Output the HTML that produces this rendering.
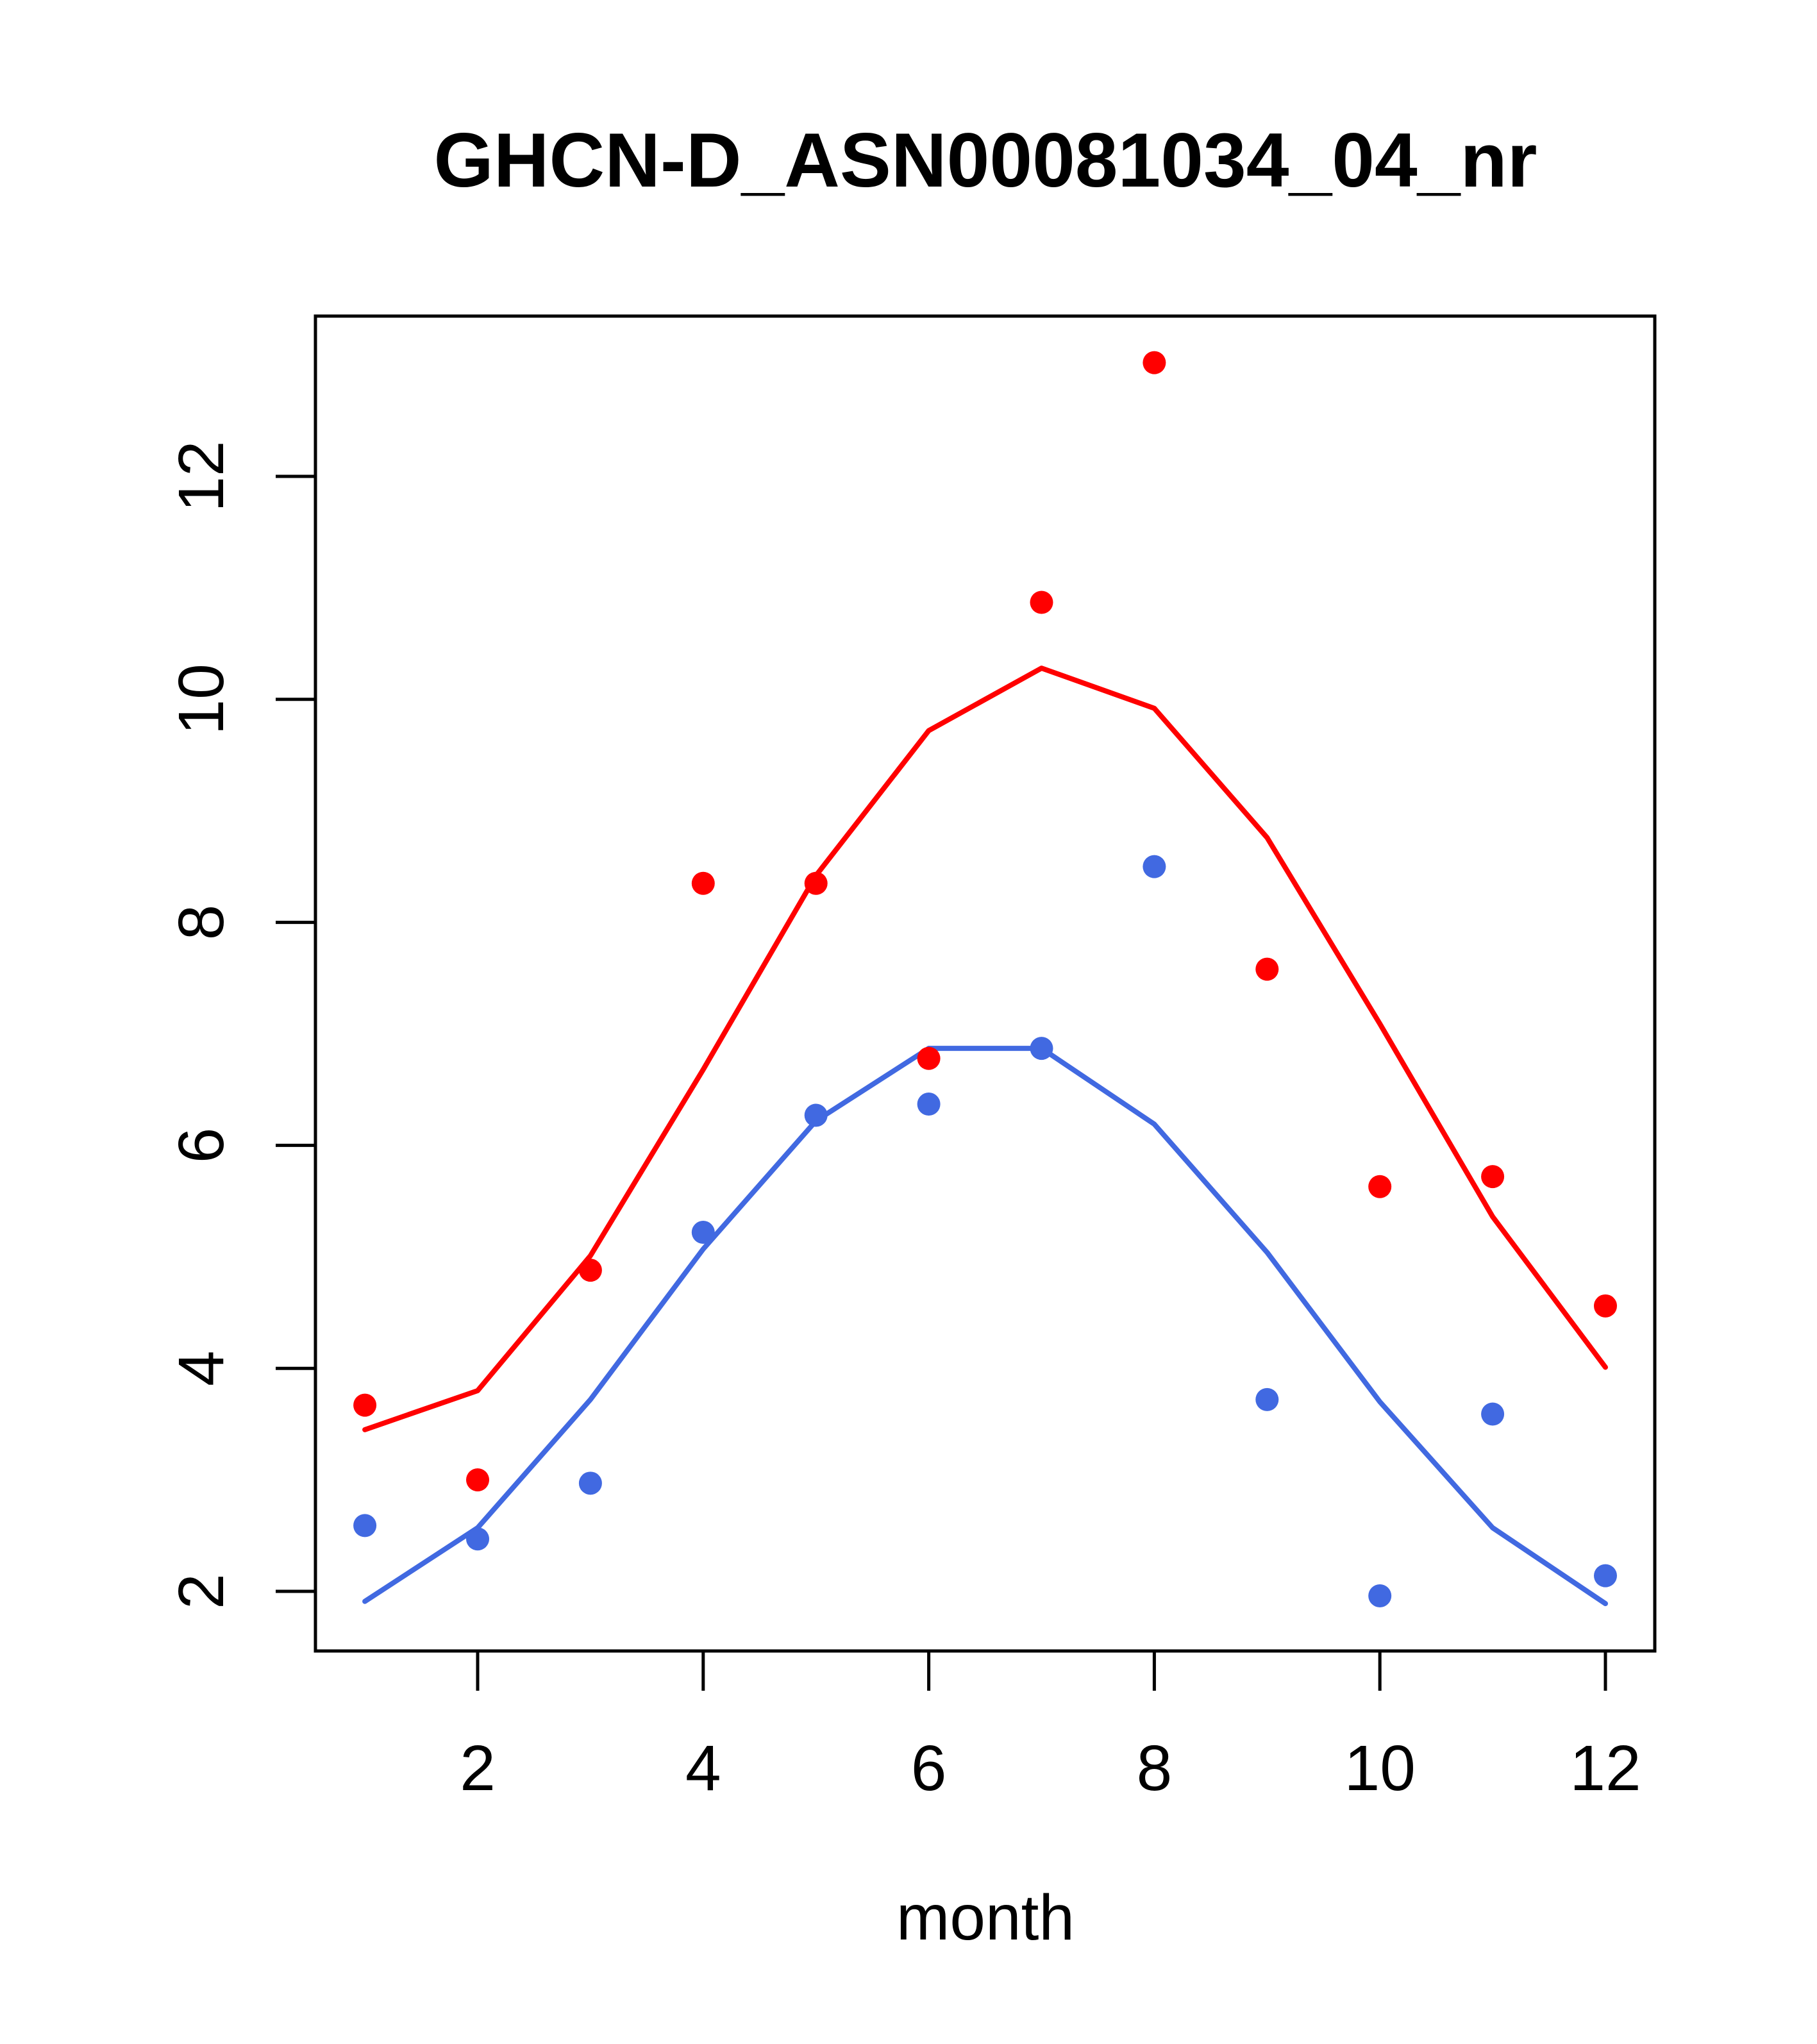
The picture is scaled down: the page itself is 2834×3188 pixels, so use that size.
<!DOCTYPE html>
<html><head><meta charset="utf-8"><style>
html,body{margin:0;padding:0;background:#fff;}
svg{display:block;font-family:"Liberation Sans",sans-serif;}
</style></head><body>
<svg id="chart" width="2834" height="3188" viewBox="0 0 2834 3188" xmlns="http://www.w3.org/2000/svg">
<rect width="2834" height="3188" fill="#fff"/>
<text x="1537" y="291" font-size="120" font-weight="bold" text-anchor="middle">GHCN-D_ASN00081034_04_nr</text>
<text x="1537" y="3025" font-size="100" text-anchor="middle">month</text>
<g id="plot"></g>
<rect x="492" y="493" width="2089" height="2082" fill="none" stroke="#000" stroke-width="5"/>
</svg>
<script>
const months = [1,2,3,4,5,6,7,8,9,10,11,12];
const redPoints = [3.67,3.0,4.88,8.35,8.35,6.78,10.87,13.02,7.58,5.63,5.72,4.56];
const redLine = [3.45,3.80,5.01,6.68,8.42,9.72,10.28,9.92,8.76,7.09,5.36,4.01];
const bluePoints = [2.59,2.47,2.97,5.22,6.27,6.37,6.87,8.50,3.72,1.96,3.59,2.14];
const blueLine = [1.91,2.57,3.72,5.07,6.22,6.87,6.87,6.19,5.04,3.70,2.57,1.89];
const xTicks = [2,4,6,8,10,12];
const yTicks = [2,4,6,8,10,12];

const NS = "http://www.w3.org/2000/svg";
const svg = document.getElementById('chart');
const plot = document.getElementById('plot');
function xs(m){ return 745 + (m-2)*175.9; }
function ys(v){ return 2482 - (v-2)*173.9; }
function mk(tag, attrs, parent){
  const e = document.createElementNS(NS, tag);
  for (const k in attrs) e.setAttribute(k, attrs[k]);
  (parent||svg).appendChild(e);
  return e;
}
xTicks.forEach(t=>{
  const l = mk('line',{x1:xs(t),x2:xs(t),y1:2575,y2:2637,stroke:'#000','stroke-width':5});
  
  
  const tx = mk('text',{x:xs(t),y:2792,'font-size':100,'text-anchor':'middle'});
  tx.textContent = t;
  
  
});
yTicks.forEach(t=>{
  const l = mk('line',{x1:430,x2:492,y1:ys(t),y2:ys(t),stroke:'#000','stroke-width':5});
  
  
  const tx = mk('text',{x:0,y:0,'font-size':100,'text-anchor':'middle',transform:'translate(348,'+ys(t)+') rotate(-90)'});
  tx.textContent = t;
  
  
});
function line(vals, color, name){
  const p = mk('polyline',{points:vals.map((v,i)=>xs(months[i])+','+ys(v)).join(' '),fill:'none',stroke:color,'stroke-width':8,'stroke-linejoin':'round','stroke-linecap':'round'},plot);
  
  
}
function pts(vals, color, name){
  vals.forEach((v,i)=>{
    const c = mk('circle',{cx:xs(months[i]),cy:ys(v),r:18,fill:color},plot);
    
    
  });
}
line(redLine,'#ff0000','red-line');
line(blueLine,'#4169e1','blue-line');
pts(redPoints,'#ff0000','red-point');
pts(bluePoints,'#4169e1','blue-point');
</script>
</body></html>
